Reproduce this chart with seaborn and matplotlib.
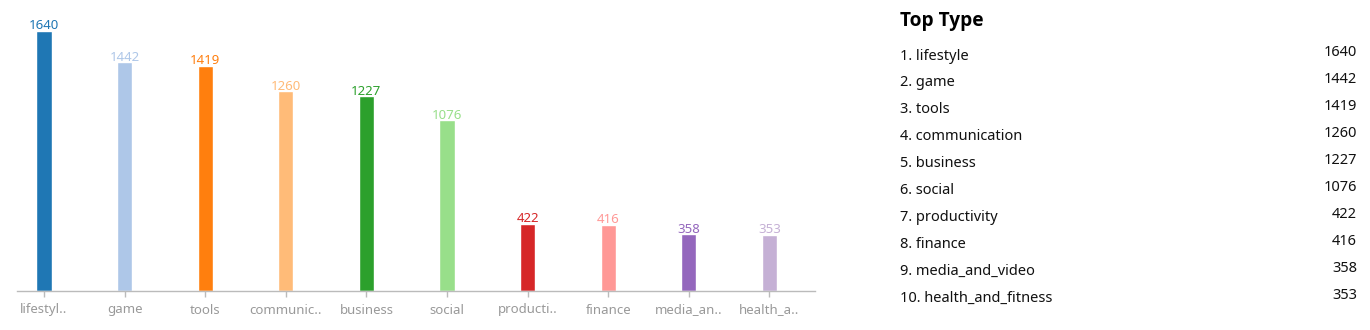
import matplotlib
matplotlib.use("Agg")
import matplotlib.pyplot as plt
import seaborn as sns
import pandas as pd

categories = ["lifestyle", "game", "tools", "communication", "business",
              "social", "productivity", "finance", "media_and_video", "health_and_fitness"]
values = [1640, 1442, 1419, 1260, 1227, 1076, 422, 416, 358, 353]
tick_labels = ["lifestyl..", "game", "tools", "communic..", "business",
               "social", "producti..", "finance", "media_an..", "health_a.."]
colors = ["#1f77b4", "#aec7e8", "#ff7f0e", "#ffbb78", "#2ca02c",
          "#98df8a", "#d62728", "#ff9896", "#9467bd", "#c5b0d5"]
title = "Top Type"

sns.set_theme(style="white")
plt.rcParams['font.family'] = ['Noto Sans', 'DejaVu Sans']

W, H = 1370, 330
fig = plt.figure(figsize=(W / 100, H / 100), dpi=100)
ax = fig.add_axes([17 / W, 39 / H, 798 / W, 281 / H])

df = pd.DataFrame({"cat": categories, "val": values})
sns.barplot(data=df, x="cat", y="val", hue="cat", palette=colors,
            legend=False, width=0.19, ax=ax, saturation=1)

for cont, c in zip(ax.containers, colors):
    ax.bar_label(cont, labels=[f"{int(v)}" for v in cont.datavalues],
                 color=c, fontsize=9.5, padding=-1)

ax.set_xlim(-0.335, 9.566)
ax.set_ylim(0, 1640 * 281 / 260)
ax.set_xticks(range(len(categories)))
ax.set_xticklabels(tick_labels, color="#999999", fontsize=9.5)
ax.set_yticks([])
ax.set_xlabel("")
ax.set_ylabel("")
for s in ["top", "right", "left"]:
    ax.spines[s].set_visible(False)
ax.spines["bottom"].set_color("#bbbbbb")
ax.spines["bottom"].set_linewidth(1)
ax.tick_params(axis="x", length=4, color="#bbbbbb", width=1, pad=5, bottom=True)

# Right-side list
fig.text(900 / W, 1 - 21 / H, title, fontsize=13.8, fontweight="bold",
         family=["Open Sans", "DejaVu Sans"],
         color="#000000", ha="left", va="center")
for i, (cat, v) in enumerate(zip(categories, values)):
    y = 56 + i * 26.9
    fig.text(900 / W, 1 - y / H, f"{i + 1}. {cat}", fontsize=10.5,
             color="#111111", ha="left", va="center")
    fig.text(1357 / W, 1 - (y - 3) / H, f"{v}", fontsize=10.5,
             color="#111111", ha="right", va="center")

fig.savefig("out.png", dpi=100)
